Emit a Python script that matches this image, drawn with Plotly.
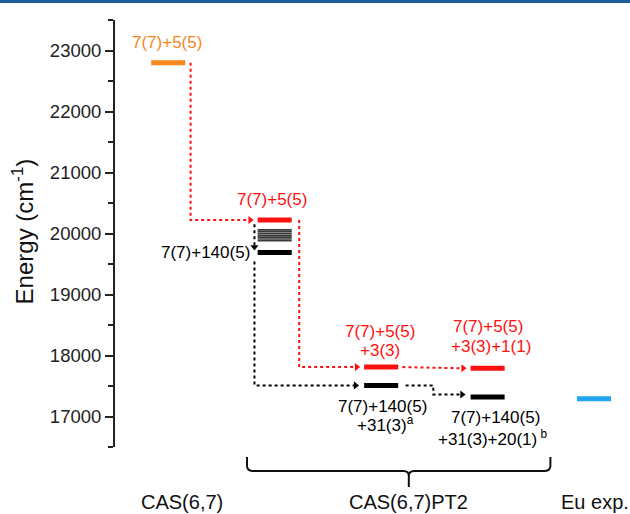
import plotly.graph_objects as go

# ---------------- data ----------------
col_x = [1, 2, 3, 4, 5]                       # column slots
bottom_labels = ["CAS(6,7)", "CAS(6,7)PT2", "Eu exp."]
bottom_label_x = [1.127, 3.26, 5.01]

cas_level = 22800                            # CAS(6,7), 7(7)+5(5)
pt2_red = [20220, 17810, 17790]              # PT2 columns 2,3,4 (red)
pt2_black = [19690, 17510, 17320]            # PT2 columns 2,3,4 (black)
pt2_stack = [20060, 20030, 20000, 19970, 19940, 19910, 19880]  # column 2 grey stack
exp_level = 17290                            # Eu exp.

ORANGE = "#F7861C"
RED = "#FF1010"
BLUE = "#1EA6F2"
BLACK = "#000000"
FONT = "Arial, Liberation Sans, sans-serif"

HW = 0.16   # half width of a level bar (x units)

fig = go.Figure()


def level(xc, v, color, width=5):
    fig.add_trace(go.Scatter(x=[xc - HW, xc + HW], y=[v, v], mode="lines",
                             line=dict(color=color, width=width),
                             hoverinfo="skip", showlegend=False))


def dotted(xs, ys, color, head=None):
    fig.add_trace(go.Scatter(x=xs, y=ys, mode="lines",
                             line=dict(color=color, width=2, dash="dot"),
                             hoverinfo="skip", showlegend=False))
    if head:
        fig.add_trace(go.Scatter(x=[xs[-1]], y=[ys[-1]], mode="markers",
                                 marker=dict(symbol=head, size=7, color=color),
                                 hoverinfo="skip", showlegend=False))


# levels
level(col_x[0], cas_level, ORANGE)
for i in range(3):
    level(col_x[i + 1], pt2_red[i], RED)
    level(col_x[i + 1], pt2_black[i], BLACK)
for v in pt2_stack:
    fig.add_trace(go.Scatter(x=[col_x[1] - HW, col_x[1] + HW], y=[v, v], mode="lines",
                             line=dict(color="#3a3a3a", width=1.6),
                             hoverinfo="skip", showlegend=False))
level(col_x[4], exp_level, BLUE)

# red dotted connectors
dotted([col_x[0] + HW + 0.05, col_x[0] + HW + 0.05, col_x[1] - HW - 0.07],
       [cas_level, pt2_red[0], pt2_red[0]], RED, "triangle-right")
dotted([col_x[1] + HW + 0.07, col_x[1] + HW + 0.07, col_x[2] - HW - 0.07],
       [pt2_red[0], pt2_red[1], pt2_red[1]], RED, "triangle-right")
dotted([col_x[2] + HW + 0.04, col_x[3] - HW - 0.07],
       [pt2_red[1], pt2_red[2]], RED, "triangle-right")

# black dotted connectors
dotted([col_x[1] - HW - 0.03, col_x[1] - HW - 0.03],
       [pt2_red[0] - 70, pt2_black[0] + 90], BLACK, "triangle-down")
dotted([col_x[1] - HW - 0.03, col_x[1] - HW - 0.03, col_x[2] - HW - 0.08],
       [pt2_black[0] - 150, pt2_black[1], pt2_black[1]], BLACK, "triangle-right")
dotted([col_x[2] + HW + 0.07, col_x[2] + 0.49, col_x[2] + 0.49, col_x[3] - HW - 0.08],
       [pt2_black[1], pt2_black[1], pt2_black[2] + 40, pt2_black[2] + 40], BLACK, "triangle-right")

# brace under the PT2 columns (x in data, y in paper)
xL, xR, xc = 1.74, 4.59, 3.26
yT, yH, yTip = -0.0234, -0.0562, -0.0937
dx, dy = 0.05, 0.012
path = (f"M {xL},{yT} L {xL},{yH + dy} Q {xL},{yH} {xL + dx},{yH} "
        f"L {xc - dx},{yH} Q {xc},{yH} {xc},{yH - dy} L {xc},{yTip} "
        f"M {xc},{yH - dy} Q {xc},{yH} {xc + dx},{yH} "
        f"L {xR - dx},{yH} Q {xR},{yH} {xR},{yH + dy} L {xR},{yT}")
fig.add_shape(type="path", path=path, xref="x", yref="paper",
              line=dict(color="#111", width=2))

# top header band
fig.add_shape(type="rect", xref="paper", yref="paper",
              x0=-0.3, x1=1.1, y0=1.0398, y1=1.06,
              line=dict(width=0), fillcolor="#1F5C99")

ann = []


def text(x, y, s, color, size=17, xanchor="center"):
    ann.append(dict(x=x, y=y, xref="x", yref="y", text=s, showarrow=False,
                    font=dict(family=FONT, size=size, color=color),
                    xanchor=xanchor, yanchor="middle"))


text(0.99, 23130, "7(7)+5(5)", ORANGE)
text(1.977, 20557, "7(7)+5(5)", RED)
text(1.79, 19689, "7(7)+140(5)", BLACK, xanchor="right")
text(2.99, 18393, "7(7)+5(5)", RED)
text(2.99, 18087, "+3(3)", RED)
text(4.005, 18480, "7(7)+5(5)", RED)
text(4.028, 18152, "+3(3)+1(1)", RED)
text(3.014, 17169, "7(7)+140(5)", BLACK)
text(3.04, 16869, "+31(3)<sup>a</sup>", BLACK)
text(4.07, 16979, "7(7)+140(5)", BLACK)
text(4.05, 16651, "+31(3)+20(1)<sup> b</sup>", BLACK)

for lab, xv in zip(bottom_labels, bottom_label_x):
    ann.append(dict(x=xv, y=-0.1288, xref="x", yref="paper", text=lab, showarrow=False,
                    font=dict(family=FONT, size=20, color="#111"),
                    xanchor="center", yanchor="middle"))

ann.append(dict(x=-0.18, y=0.505, xref="paper", yref="paper",
                text="Energy (cm<sup>-1</sup>)", textangle=-90, showarrow=False,
                font=dict(family=FONT, size=24, color="#111"),
                xanchor="center", yanchor="middle"))

fig.update_layout(
    width=630, height=514,
    margin=dict(l=115, r=4, t=20, b=67),
    plot_bgcolor="white", paper_bgcolor="white",
    showlegend=False,
    annotations=ann,
    xaxis=dict(range=[0.5, 5.3], visible=False, fixedrange=True),
    yaxis=dict(range=[16500, 23500], showline=True, linecolor="#222", linewidth=2,
               ticks="outside", ticklen=8, tickwidth=2, tickcolor="#222",
               tick0=17000, dtick=1000, tickformat="d", showgrid=False, zeroline=False,
               tickfont=dict(family=FONT, size=18.5, color="#222"),
               minor=dict(ticks="outside", ticklen=5, tickwidth=2, tickcolor="#222",
                          dtick=500, showgrid=False)),
)

fig.write_html("out.html")
